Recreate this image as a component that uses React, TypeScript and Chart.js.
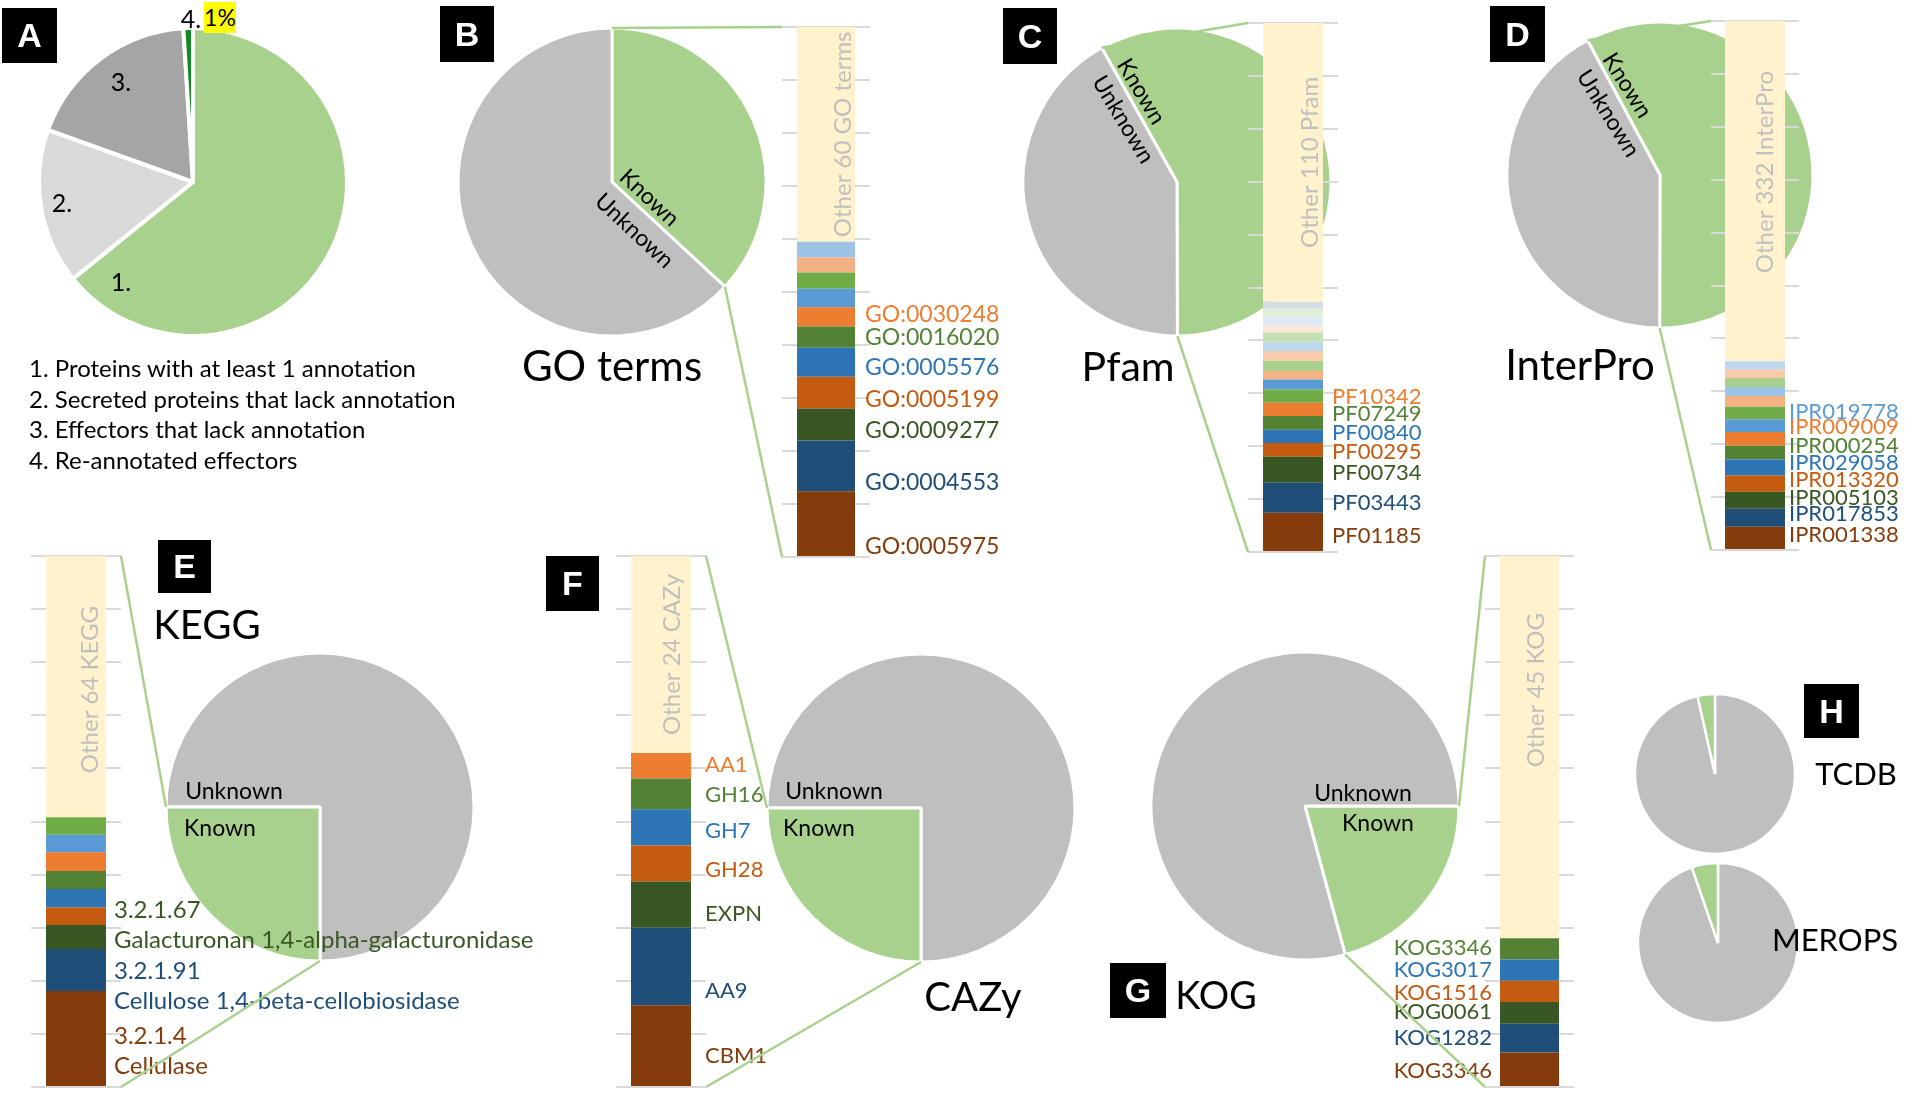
import React, { useEffect, useRef } from 'react';
import { Chart, registerables } from 'chart.js';

Chart.register(...registerables);

// ======================= DATA =======================
// Panel A – share of the effector candidates
const A_SLICE_LABELS = ['1.', '2.', '3.', '4.'];
const A_SLICE_VALUES = [64.2, 16.3, 18.5, 1.0];
const A_HIGHLIGHT = '1%';
const A_LEGEND = [
  '1. Proteins with at least 1 annotation',
  '2. Secreted proteins that lack annotation',
  '3. Effectors that lack annotation',
  '4. Re-annotated effectors',
];

// Pies (slices in drawing order, clockwise)
const GO_PIE_LABELS = ['Known', 'Unknown'];
const GO_PIE_VALUES = [36.9, 63.1];
const PFAM_PIE_LABELS = ['Known', 'Unknown'];
const PFAM_PIE_VALUES = [58.1, 41.9];
const IPR_PIE_LABELS = ['Known', 'Unknown'];
const IPR_PIE_VALUES = [57.9, 42.1];
const KEGG_PIE_LABELS = ['Unknown', 'Known'];
const KEGG_PIE_VALUES = [75, 25];
const CAZY_PIE_LABELS = ['Unknown', 'Known'];
const CAZY_PIE_VALUES = [75, 25];
const KOG_PIE_LABELS = ['Known', 'Unknown'];
const KOG_PIE_VALUES = [20.8, 79.2];
const TCDB_PIE_LABELS = ['Unknown', 'Known'];
const TCDB_PIE_VALUES = [96.5, 3.5];
const MEROPS_PIE_LABELS = ['Unknown', 'Known'];
const MEROPS_PIE_VALUES = [94.7, 5.3];

// Stacked bars (bottom -> top, % of known annotations)
const GO_BAR_LABELS = ['GO:0005975', 'GO:0004553', 'GO:0009277', 'GO:0005199', 'GO:0005576', 'GO:0016020', 'GO:0030248', '', '', '', '', ''];
const GO_BAR_VALUES = [12.4, 9.6, 6.0, 6.0, 5.5, 4.0, 3.6, 3.5, 3.1, 2.8, 3.0, 40.5];
const GO_OTHER = 'Other 60 GO terms';

const PFAM_BAR_LABELS = ['PF01185', 'PF03443', 'PF00734', 'PF00295', 'PF00840', 'PF07249', 'PF10342', '', '', '', '', '', '', '', '', '', '', '', ''];
const PFAM_BAR_VALUES = [7.4, 5.7, 4.9, 2.6, 2.5, 2.6, 2.5, 2.5, 1.9, 1.6, 1.9, 1.9, 1.6, 1.9, 1.3, 1.6, 1.6, 1.3, 52.7];
const PFAM_OTHER = 'Other 110 Pfam';

const IPR_BAR_LABELS = ['IPR001338', 'IPR017853', 'IPR005103', 'IPR013320', 'IPR029058', 'IPR000254', 'IPR009009', 'IPR019778', '', '', '', '', '', '', ''];
const IPR_BAR_VALUES = [4.4, 3.4, 3.2, 3.1, 3.0, 2.6, 2.6, 2.4, 2.4, 2.0, 1.7, 1.7, 1.6, 1.6, 64.3];
const IPR_OTHER = 'Other 332 InterPro';

const KEGG_BAR_LABELS: (string | string[])[] = [
  ['3.2.1.4', 'Cellulase'],
  ['3.2.1.91', 'Cellulose 1,4-beta-cellobiosidase'],
  ['3.2.1.67', 'Galacturonan 1,4-alpha-galacturonidase'],
  '', '', '', '', '', '', '',
];
const KEGG_BAR_VALUES = [18.1, 7.9, 4.5, 3.3, 3.5, 3.4, 3.5, 3.3, 3.3, 49.2];
const KEGG_OTHER = 'Other 64 KEGG';

const CAZY_BAR_LABELS = ['CBM1', 'AA9', 'EXPN', 'GH28', 'GH7', 'GH16', 'AA1', ''];
const CAZY_BAR_VALUES = [15.4, 14.6, 8.7, 6.8, 6.8, 5.8, 4.8, 37.1];
const CAZY_OTHER = 'Other 24 CAZy';

const KOG_BAR_LABELS = ['KOG3346', 'KOG1282', 'KOG0061', 'KOG1516', 'KOG3017', 'KOG3346', ''];
const KOG_BAR_VALUES = [6.5, 5.4, 4.1, 4.0, 4.0, 4.0, 72.0];
const KOG_OTHER = 'Other 45 KOG';

// ======================= STYLE =======================
const FONT = 'Lato, "Open Sans", "DejaVu Sans", sans-serif';
const BROWN = '#843C0C', DBLUE = '#1F4E79', DGREEN = '#385723', DORANGE = '#C55A11';
const BLUE = '#2E75B6', GREEN = '#548235', ORANGE = '#ED7D31';
const LBLUE = '#5B9BD5', LGREEN = '#70AD47', PORANGE = '#F4B183', PBLUE = '#9DC3E6', PGREEN = '#A9D18E';
const PPORANGE = '#F8CBAD', PPBLUE = '#BDD7EE', PPGREEN = '#C5E0B4', PPPINK = '#FBE5D6', PPPBLUE = '#DEEBF7', PPPGREEN = '#E2F0D9', GREYBLUE = '#D6DCE5';
const CREAM = '#FFF2CC';
const KNOWN = '#A9D18E', UNKNOWN = '#BFBFBF';
const BASE7 = [BROWN, DBLUE, DGREEN, DORANGE, BLUE, GREEN, ORANGE];
const PAD = 4;

type PieSpec = { key: string; cx: number; cy: number; r: number; labels: string[]; values: number[]; colors: string[]; rotation: number; border: number };
type BarSpec = {
  key: string; left: number; top: number; w: number; h: number; barW: number;
  labels: (string | string[])[]; values: number[]; colors: string[]; shifts: number[];
  side: 'right' | 'left'; space: number; gap: number; font: number; lineGap: number;
  other: string; otherDx: number; otherDy: number;
};

const PIES: PieSpec[] = [
  { key: 'A', cx: 193, cy: 182, r: 154, labels: A_SLICE_LABELS, values: A_SLICE_VALUES, colors: ['#A9D18E', '#D9D9D9', '#A5A5A5', '#128A24'], rotation: 0, border: 4 },
  { key: 'B', cx: 612, cy: 182, r: 154, labels: GO_PIE_LABELS, values: GO_PIE_VALUES, colors: [KNOWN, UNKNOWN], rotation: 0, border: 3 },
  { key: 'C', cx: 1177, cy: 182, r: 154, labels: PFAM_PIE_LABELS, values: PFAM_PIE_VALUES, colors: [KNOWN, UNKNOWN], rotation: 330.7, border: 3 },
  { key: 'D', cx: 1660, cy: 175, r: 153, labels: IPR_PIE_LABELS, values: IPR_PIE_VALUES, colors: [KNOWN, UNKNOWN], rotation: 331.7, border: 3 },
  { key: 'E', cx: 320, cy: 807, r: 154, labels: KEGG_PIE_LABELS, values: KEGG_PIE_VALUES, colors: [UNKNOWN, KNOWN], rotation: 270, border: 3 },
  { key: 'F', cx: 921, cy: 808, r: 154, labels: CAZY_PIE_LABELS, values: CAZY_PIE_VALUES, colors: [UNKNOWN, KNOWN], rotation: 270, border: 3 },
  { key: 'G', cx: 1305, cy: 806, r: 154, labels: KOG_PIE_LABELS, values: KOG_PIE_VALUES, colors: [KNOWN, UNKNOWN], rotation: 90, border: 3 },
  { key: 'T', cx: 1715, cy: 774, r: 80, labels: TCDB_PIE_LABELS, values: TCDB_PIE_VALUES, colors: [UNKNOWN, KNOWN], rotation: 0, border: 2.5 },
  { key: 'M', cx: 1718, cy: 943, r: 80, labels: MEROPS_PIE_LABELS, values: MEROPS_PIE_VALUES, colors: [UNKNOWN, KNOWN], rotation: 0, border: 2.5 },
];

const BARS: BarSpec[] = [
  { key: 'B', left: 782, top: 27, w: 88, h: 530, barW: 58, labels: GO_BAR_LABELS, values: GO_BAR_VALUES,
    colors: [...BASE7, LBLUE, LGREEN, PORANGE, PBLUE, CREAM], shifts: [23, 17, 6, 7, 5, 1, -2],
    side: 'right', space: 170, gap: 10, font: 23, lineGap: 0, other: GO_OTHER, otherDx: 17, otherDy: 0 },
  { key: 'C', left: 1248, top: 23, w: 90, h: 529, barW: 60, labels: PFAM_BAR_LABELS, values: PFAM_BAR_VALUES,
    colors: [...BASE7, LGREEN, LBLUE, PORANGE, PGREEN, PPORANGE, PPBLUE, PPGREEN, PPPINK, PPPBLUE, PPPGREEN, GREYBLUE, CREAM],
    shifts: [4, 5, 3, 2, -4, -9, -13], side: 'right', space: 120, gap: 9, font: 22, lineGap: 0, other: PFAM_OTHER, otherDx: 17, otherDy: 0 },
  { key: 'D', left: 1711, top: 21, w: 88, h: 529, barW: 60, labels: IPR_BAR_LABELS, values: IPR_BAR_VALUES,
    colors: [...BASE7, LBLUE, LGREEN, PORANGE, PBLUE, PGREEN, PPORANGE, PPBLUE, CREAM],
    shifts: [-3, -4, -2, -4, -5, -7, -12, -14], side: 'right', space: 120, gap: 4, font: 22, lineGap: 0, other: IPR_OTHER, otherDx: 10, otherDy: -19 },
  { key: 'E', left: 31, top: 556, w: 90, h: 531, barW: 60, labels: KEGG_BAR_LABELS, values: KEGG_BAR_VALUES,
    colors: [...BASE7, LBLUE, LGREEN, CREAM], shifts: [13, 16, -12], side: 'right', space: 460, gap: 8, font: 24, lineGap: 30,
    other: KEGG_OTHER, otherDx: 14, otherDy: 3 },
  { key: 'F', left: 616, top: 556, w: 90, h: 531, barW: 60, labels: CAZY_BAR_LABELS, values: CAZY_BAR_VALUES,
    colors: [...BASE7, CREAM], shifts: [10, 24, 9, 6, 4, 1, -1], side: 'right', space: 100, gap: 14, font: 22, lineGap: 0,
    other: CAZY_OTHER, otherDx: 11, otherDy: 0 },
  { key: 'G', left: 1485, top: 556, w: 89, h: 531, barW: 59, labels: KOG_BAR_LABELS, values: KOG_BAR_VALUES,
    colors: [BROWN, DBLUE, DGREEN, DORANGE, BLUE, GREEN, CREAM], shifts: [2, 0, -1, 1, 0, -1], side: 'left', space: 130, gap: 8, font: 22, lineGap: 0,
    other: KOG_OTHER, otherDx: 7, otherDy: -57 },
];

// pie key, bar key, index of the "Known" slice that is broken out
const LINKS: [string, string, number][] = [['B', 'B', 0], ['C', 'C', 0], ['D', 'D', 0], ['E', 'E', 1], ['F', 'F', 1], ['G', 'G', 0]];

const BOXES = [
  { t: 'A', x: 2, y: 8, w: 55, h: 55 }, { t: 'B', x: 440, y: 6, w: 54, h: 56 }, { t: 'C', x: 1003, y: 8, w: 54, h: 56 },
  { t: 'D', x: 1490, y: 6, w: 55, h: 56 }, { t: 'E', x: 158, y: 540, w: 53, h: 53 }, { t: 'F', x: 546, y: 556, w: 53, h: 55 },
  { t: 'G', x: 1110, y: 963, w: 56, h: 55 }, { t: 'H', x: 1804, y: 684, w: 55, h: 54 },
];

const TITLES = [
  { t: 'GO terms', x: 612, y: 365, s: 42 }, { t: 'Pfam', x: 1128, y: 365, s: 41 }, { t: 'InterPro', x: 1580, y: 364, s: 42 },
  { t: 'KEGG', x: 207, y: 624, s: 40 }, { t: 'CAZy', x: 973, y: 996, s: 40 }, { t: 'KOG', x: 1216, y: 994, s: 38 },
  { t: 'TCDB', x: 1856, y: 773, s: 31 }, { t: 'MEROPS', x: 1835, y: 939, s: 31 },
];

const PIE_TEXT = [
  { t: 'Known', x: 650, y: 197, r: 43 }, { t: 'Unknown', x: 635, y: 230, r: 43 },
  { t: 'Known', x: 1142, y: 91, r: 59 }, { t: 'Unknown', x: 1124, y: 119, r: 59 },
  { t: 'Known', x: 1628, y: 85, r: 58 }, { t: 'Unknown', x: 1609, y: 113, r: 58 },
  { t: 'Unknown', x: 234, y: 790, r: 0 }, { t: 'Known', x: 220, y: 827, r: 0 },
  { t: 'Unknown', x: 834, y: 790, r: 0 }, { t: 'Known', x: 819, y: 827, r: 0 },
  { t: 'Unknown', x: 1363, y: 792, r: 0 }, { t: 'Known', x: 1378, y: 822, r: 0 },
];

const A_LABEL_POS = [{ x: 121, y: 281 }, { x: 62, y: 202 }, { x: 121, y: 81 }, { x: 191, y: 18 }];

function pieBox(p: PieSpec) {
  const size = Math.ceil(2 * (p.r + 6));
  return { left: p.cx - size / 2, top: p.cy - size / 2, size };
}
function barBox(b: BarSpec) {
  const left = b.side === 'right' ? b.left : b.left - b.space;
  return { left, top: b.top - PAD, width: b.w + b.space, height: b.h + 2 * PAD };
}

export default function App() {
  const canvases = useRef<Record<string, HTMLCanvasElement | null>>({});
  const overlay = useRef<HTMLCanvasElement | null>(null);

  useEffect(() => {
    const charts: Chart[] = [];
    const pieCharts: Record<string, Chart> = {};
    const barCharts: Record<string, Chart> = {};

    PIES.forEach((p) => {
      const cv = canvases.current['pie' + p.key];
      if (!cv) return;
      const ch = new Chart(cv, {
        type: 'pie',
        data: {
          labels: p.labels,
          datasets: [{ data: p.values, backgroundColor: p.colors, borderColor: '#FFFFFF', borderWidth: p.border }],
        },
        options: {
          animation: false, responsive: false, maintainAspectRatio: false,
          rotation: p.rotation, radius: p.r,
          layout: { padding: 0 },
          plugins: { legend: { display: false }, tooltip: { enabled: false } },
        } as any,
      });
      charts.push(ch);
      pieCharts[p.key] = ch;
    });

    BARS.forEach((b) => {
      const cv = canvases.current['bar' + b.key];
      if (!cv) return;
      const labelPlugin = {
        id: 'segLabels' + b.key,
        afterDatasetsDraw(chart: any) {
          const ctx = chart.ctx as CanvasRenderingContext2D;
          ctx.save();
          ctx.textBaseline = 'middle';
          b.labels.forEach((lab, i) => {
            if (!lab || (Array.isArray(lab) && lab.length === 0)) return;
            const el: any = chart.getDatasetMeta(i).data[0];
            const pr = el.getProps(['x', 'y', 'base', 'width'], true);
            const yc = (pr.y + pr.base) / 2 + (b.shifts[i] || 0);
            const x = b.side === 'right' ? pr.x + pr.width / 2 + b.gap : pr.x - pr.width / 2 - b.gap;
            ctx.textAlign = b.side === 'right' ? 'left' : 'right';
            ctx.fillStyle = b.colors[i];
            ctx.font = `${b.font}px ${FONT}`;
            const lines = Array.isArray(lab) ? lab : [lab];
            lines.forEach((t, j) => ctx.fillText(t, x, yc + (j - (lines.length - 1) / 2) * b.lineGap));
          });
          const last = b.values.length - 1;
          const el: any = chart.getDatasetMeta(last).data[0];
          const pr = el.getProps(['x', 'y', 'base', 'width'], true);
          ctx.translate(pr.x + b.otherDx, (pr.y + pr.base) / 2 + b.otherDy);
          ctx.rotate(-Math.PI / 2);
          ctx.textAlign = 'center';
          ctx.fillStyle = '#BFBFBF';
          ctx.font = `24px ${FONT}`;
          ctx.fillText(b.other, 0, 0);
          ctx.restore();
        },
      };
      const ch = new Chart(cv, {
        type: 'bar',
        data: {
          labels: [''],
          datasets: b.values.map((v, i) => ({
            label: (Array.isArray(b.labels[i]) ? (b.labels[i] as string[]).join(' ') : (b.labels[i] as string)) || (i === b.values.length - 1 ? b.other : 'other ' + i),
            data: [v], backgroundColor: b.colors[i], borderWidth: 0,
            barPercentage: b.barW / b.w, categoryPercentage: 1,
          })),
        },
        options: {
          animation: false, responsive: false, maintainAspectRatio: false,
          layout: { padding: { top: PAD, bottom: PAD, left: b.side === 'left' ? b.space : 0, right: b.side === 'right' ? b.space : 0 } },
          plugins: { legend: { display: false }, tooltip: { enabled: false } },
          scales: {
            x: { stacked: true, display: false },
            y: {
              stacked: true, min: 0, max: 100,
              ticks: { display: false, stepSize: 10 },
              grid: { color: '#D9D9D9', lineWidth: 2, drawTicks: false },
              border: { display: false },
            },
          },
        } as any,
        plugins: [labelPlugin],
      });
      charts.push(ch);
      barCharts[b.key] = ch;
    });

    // connector lines from the broken-out slice to the bar
    const ov = overlay.current;
    if (ov) {
      const ctx = ov.getContext('2d')!;
      ctx.clearRect(0, 0, ov.width, ov.height);
      ctx.strokeStyle = '#A9D18E';
      ctx.lineWidth = 2.5;
      LINKS.forEach(([pk, bk, idx]) => {
        const pie = pieCharts[pk], bar = barCharts[bk];
        const ps = PIES.find((p) => p.key === pk)!, bs = BARS.find((b) => b.key === bk)!;
        if (!pie || !bar) return;
        const pb = pieBox(ps), bb = barBox(bs);
        const arc: any = pie.getDatasetMeta(0).data[idx];
        const a = arc.getProps(['x', 'y', 'startAngle', 'endAngle', 'outerRadius'], true);
        const pts = [a.startAngle, a.endAngle].map((t: number) => [pb.left + a.x + a.outerRadius * Math.cos(t), pb.top + a.y + a.outerRadius * Math.sin(t)]);
        pts.sort((p: number[], q: number[]) => p[1] - q[1]);
        const ca = bar.chartArea;
        const barMid = bb.left + (ca.left + ca.right) / 2;
        const sx = barMid > pb.left + a.x ? bb.left + ca.left : bb.left + ca.right;
        ctx.beginPath();
        ctx.moveTo(pts[0][0], pts[0][1]);
        ctx.lineTo(sx, bb.top + ca.top);
        ctx.moveTo(pts[1][0], pts[1][1]);
        ctx.lineTo(sx, bb.top + ca.bottom);
        ctx.stroke();
      });
    }

    return () => { charts.forEach((c) => c.destroy()); };
  }, []);

  const abs = (x: number, y: number, extra: React.CSSProperties = {}): React.CSSProperties => ({ position: 'absolute', left: x, top: y, ...extra });

  return (
    <div style={{ position: 'absolute', left: 0, top: 0, width: 1905, height: 1096, background: '#FFFFFF', overflow: 'hidden', fontFamily: FONT, color: '#000' }}>
      {PIES.map((p) => {
        const pb = pieBox(p);
        return (
          <canvas key={'pie' + p.key} ref={(el) => { canvases.current['pie' + p.key] = el; }} width={pb.size} height={pb.size}
            style={abs(pb.left, pb.top, { width: pb.size, height: pb.size, zIndex: 1 })} />
        );
      })}
      {BARS.map((b) => {
        const bb = barBox(b);
        return (
          <canvas key={'bar' + b.key} ref={(el) => { canvases.current['bar' + b.key] = el; }} width={bb.width} height={bb.height}
            style={abs(bb.left, bb.top, { width: bb.width, height: bb.height, zIndex: 2 })} />
        );
      })}
      <canvas ref={overlay} width={1905} height={1096} style={abs(0, 0, { width: 1905, height: 1096, zIndex: 3, pointerEvents: 'none' })} />

      <div style={{ position: 'absolute', inset: 0, zIndex: 4, pointerEvents: 'none' }}>
        {BOXES.map((b) => (
          <div key={b.t} style={abs(b.x, b.y, { width: b.w, height: b.h, background: '#000', color: '#fff', display: 'flex', alignItems: 'center', justifyContent: 'center', fontFamily: '"Liberation Sans", Arial, sans-serif', fontWeight: 700, fontSize: 34 })}>{b.t}</div>
        ))}
        {TITLES.map((t) => (
          <div key={t.t} style={abs(t.x, t.y, { transform: 'translate(-50%,-50%)', fontSize: t.s, lineHeight: 1, whiteSpace: 'nowrap' })}>{t.t}</div>
        ))}
        {PIE_TEXT.map((t, i) => (
          <div key={'pt' + i} style={abs(t.x, t.y, { transform: `translate(-50%,-50%) rotate(${t.r}deg)`, fontSize: 23, lineHeight: 1, whiteSpace: 'nowrap' })}>{t.t}</div>
        ))}
        {A_SLICE_LABELS.slice(0, 3).map((t, i) => (
          <div key={'al' + i} style={abs(A_LABEL_POS[i].x, A_LABEL_POS[i].y, { transform: 'translate(-50%,-50%)', fontSize: 25, lineHeight: 1 })}>{t}</div>
        ))}
        <div style={abs(A_LABEL_POS[3].x, A_LABEL_POS[3].y, { transform: 'translate(-50%,-50%)', fontSize: 25, lineHeight: 1 })}>{A_SLICE_LABELS[3]}</div>
        <div style={abs(204, 2, { width: 32, height: 31, background: '#FFFF00', display: 'flex', alignItems: 'center', justifyContent: 'center', fontSize: 23, lineHeight: 1 })}>{A_HIGHLIGHT}</div>
        {A_LEGEND.map((t, i) => (
          <div key={'lg' + i} style={abs(29, 368 + i * 30.7, { transform: 'translate(0,-50%)', fontSize: 24, lineHeight: 1, whiteSpace: 'nowrap' })}>{t}</div>
        ))}
      </div>
    </div>
  );
}
